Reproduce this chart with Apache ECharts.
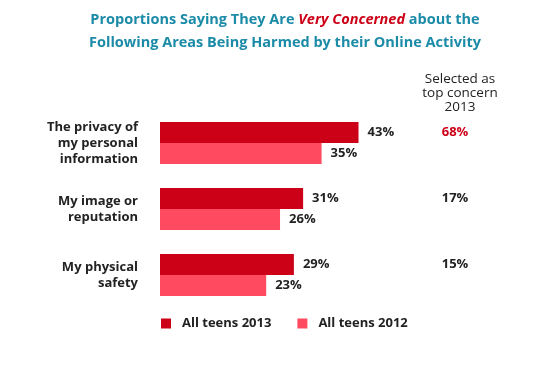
<!DOCTYPE html>
<html><head><meta charset="utf-8">
<script src="https://cdn.jsdelivr.net/npm/echarts@6/dist/echarts.min.js"></script>
<style>html,body{margin:0;padding:0;background:#fff}#c{width:541px;height:366px}</style>
</head><body><div id="c"></div>
<script>
const categories = ['The privacy of\nmy personal\ninformation', 'My image or\nreputation', 'My physical\nsafety'];
const teens2013 = [43, 31, 29];
const teens2012 = [35, 26, 23];
const topConcern2013 = [68, 17, 15];
const seriesNames = ['All teens 2013', 'All teens 2012'];

const FONT = 'Open Sans';
const RED = '#cc0016';
const PINK = '#ff4a5f';
const chart = echarts.init(document.getElementById('c'), null, {renderer: 'canvas'});
chart.setOption({
  animation: false,
  textStyle: {fontFamily: FONT},
  title: [{
    text: '{t|Proportions Saying They Are }{r|Very Concerned}{t| about the}\n{t|Following Areas Being Harmed by their Online Activity}',
    left: 280, top: 3, textAlign: 'center',
    textStyle: {
      rich: {
        t: {fontFamily: FONT, fontWeight: 'bold', fontSize: 14.5, color: '#1b8ba8', lineHeight: 23},
        r: {fontFamily: FONT, fontWeight: 'bold', fontStyle: 'italic', fontSize: 14.5, color: RED, lineHeight: 23}
      }
    }
  }, {
    text: 'Selected as\ntop concern\n2013',
    left: 455, top: 67, textAlign: 'center',
    textStyle: {fontFamily: FONT, fontWeight: 'normal', fontSize: 13.5, color: '#222', lineHeight: 14}
  }],
  legend: {
    data: seriesNames,
    bottom: 31, left: 156,
    itemWidth: 10, itemHeight: 10, itemGap: 26,
    icon: 'rect',
    textStyle: {fontFamily: FONT, fontWeight: 'bold', fontSize: 13, color: '#222', padding: [0,0,0,6]}
  },
  grid: {left: 160, right: 104, top: 110, bottom: 58, containLabel: false},
  xAxis: {type: 'value', min: 0, max: 60, show: false},
  yAxis: [{
    type: 'category', data: categories, inverse: true,
    axisLine: {show: false}, axisTick: {show: false},
    axisLabel: {fontFamily: FONT, fontWeight: 'bold', fontSize: 13, color: '#222', lineHeight: 16, margin: 22, align: 'right'}
  }, {
    type: 'category', data: topConcern2013, inverse: true, position: 'right',
    axisLine: {show: false}, axisTick: {show: false},
    axisLabel: {
      margin: 18, align: 'center', padding: [0, 0, 21, 0],
      formatter: function (v, i) { return (i === 0 ? '{r|' : '{k|') + v + '%}'; },
      rich: {
        r: {fontFamily: FONT, fontWeight: 'bold', fontSize: 13, color: RED},
        k: {fontFamily: FONT, fontWeight: 'bold', fontSize: 13, color: '#222'}
      }
    }
  }],
  series: [{
    name: seriesNames[0], type: 'bar', data: teens2013, barWidth: 21, barGap: '0%',
    itemStyle: {color: RED},
    label: {show: true, position: 'right', distance: 9, formatter: '{c}%', fontFamily: FONT, fontWeight: 'bold', fontSize: 13, color: '#222'}
  }, {
    name: seriesNames[1], type: 'bar', data: teens2012, barWidth: 21,
    itemStyle: {color: PINK},
    label: {show: true, position: 'right', distance: 9, formatter: '{c}%', fontFamily: FONT, fontWeight: 'bold', fontSize: 13, color: '#222'}
  }]
});
</script></body></html>
